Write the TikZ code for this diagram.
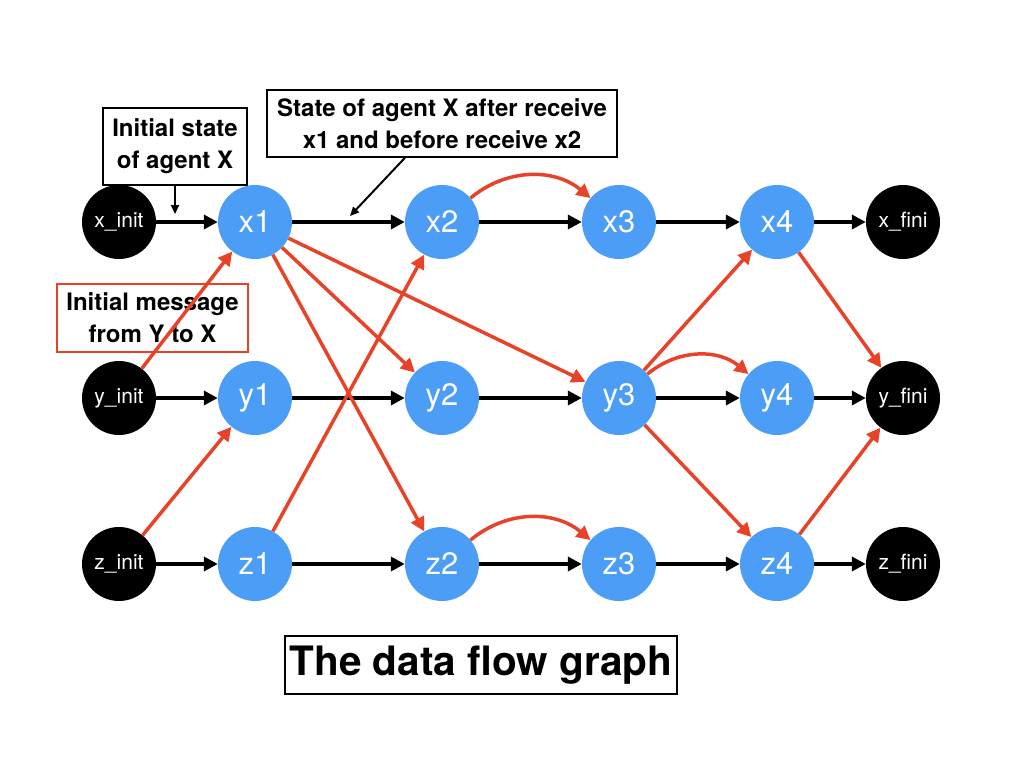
\documentclass[tikz,border=0pt]{standalone}
\usepackage{fontspec}
\setmainfont{TeX Gyre Heros}
\usetikzlibrary{arrows.meta}
\definecolor{agentblue}{RGB}{75,157,245}
\definecolor{msgred}{RGB}{232,67,40}

\begin{document}
\begin{tikzpicture}[x=1pt,y=-1pt,
  agent/.style={circle,fill=agentblue,minimum size=74pt,inner sep=0pt,text=white,font=\fontsize{31}{31}\selectfont},
  term/.style={circle,fill=black,minimum size=74pt,inner sep=0pt,text=white,font=\fontsize{21}{21}\selectfont},
  flow/.style={line width=4pt,-{Triangle[length=14pt,width=14pt]}},
  msg/.style={flow,line width=3.5pt,msgred},
  note/.style={draw,line width=1.5pt,align=center,inner sep=0pt,font=\bfseries\fontsize{24}{32}\selectfont},
  pointer/.style={line width=2pt,-{Triangle[length=9pt,width=8pt]}}]
\useasboundingbox (0,0) rectangle (1024,768);
% notes
\node[note,minimum width=144pt,minimum height=77pt] (initnote) at (175,146.5) {Initial state\\of agent X};
\node[note,minimum width=350pt,minimum height=67pt] (statenote) at (442,123.5) {State of agent X after receive\\x1 and before receive x2};
\node[note,draw=msgred,minimum width=191pt,minimum height=68pt] (msgnote) at (152.5,318) {Initial message\\from Y to X};
\node[draw,line width=2pt,minimum width=392pt,minimum height=58pt,inner sep=0pt,font=\bfseries\fontsize{40.5}{40}\selectfont] (title) at (481,665) {The data flow graph};
% agents
\node[term] (xi) at (119,222) {x\_init};
\node[term] (yi) at (119,398) {y\_init};
\node[term] (zi) at (119,564) {z\_init};
\node[agent] (x1) at (255,222) {x1};
\node[agent] (y1) at (255,398) {y1};
\node[agent] (z1) at (255,564) {z1};
\node[agent] (x2) at (442,222) {x2};
\node[agent] (y2) at (442,398) {y2};
\node[agent] (z2) at (442,564) {z2};
\node[agent] (x3) at (619,222) {x3};
\node[agent] (y3) at (619,398) {y3};
\node[agent] (z3) at (619,564) {z3};
\node[agent] (x4) at (777,222) {x4};
\node[agent] (y4) at (777,398) {y4};
\node[agent] (z4) at (777,564) {z4};
\node[term] (xf) at (903,222) {x\_fini};
\node[term] (yf) at (903,398) {y\_fini};
\node[term] (zf) at (903,564) {z\_fini};
% state flow
\draw[flow] (xi)--(x1); \draw[flow] (x1)--(x2); \draw[flow] (x2)--(x3); \draw[flow] (x3)--(x4); \draw[flow] (x4)--(xf);
\draw[flow] (yi)--(y1); \draw[flow] (y1)--(y2); \draw[flow] (y2)--(y3); \draw[flow] (y3)--(y4); \draw[flow] (y4)--(yf);
\draw[flow] (zi)--(z1); \draw[flow] (z1)--(z2); \draw[flow] (z2)--(z3); \draw[flow] (z3)--(z4); \draw[flow] (z4)--(zf);
% messages
\draw[msg] (yi)--(x1);
\draw[msg] (zi)--(y1);
\draw[msg] (z1)--(x2);
\draw[msg] (x1)--(y2);
\draw[msg] (x1)--(z2);
\draw[msg] (x1)--(y3);
\draw[msg] (x2) to[bend left=40] (x3);
\draw[msg] (z2) to[bend left=40] (z3);
\draw[msg] (y3) to[bend left=40] (y4);
\draw[msg] (y3)--(x4);
\draw[msg] (y3)--(z4);
\draw[msg] (x4)--(yf);
\draw[msg] (z4)--(yf);
% pointers
\coordinate (initpt) at (175,214);
\coordinate (statept) at (350,216);
\draw[pointer] (initnote.south)--(initpt);
\draw[pointer] ([xshift=-37pt]statenote.south)--(statept);
\end{tikzpicture}
\end{document}
